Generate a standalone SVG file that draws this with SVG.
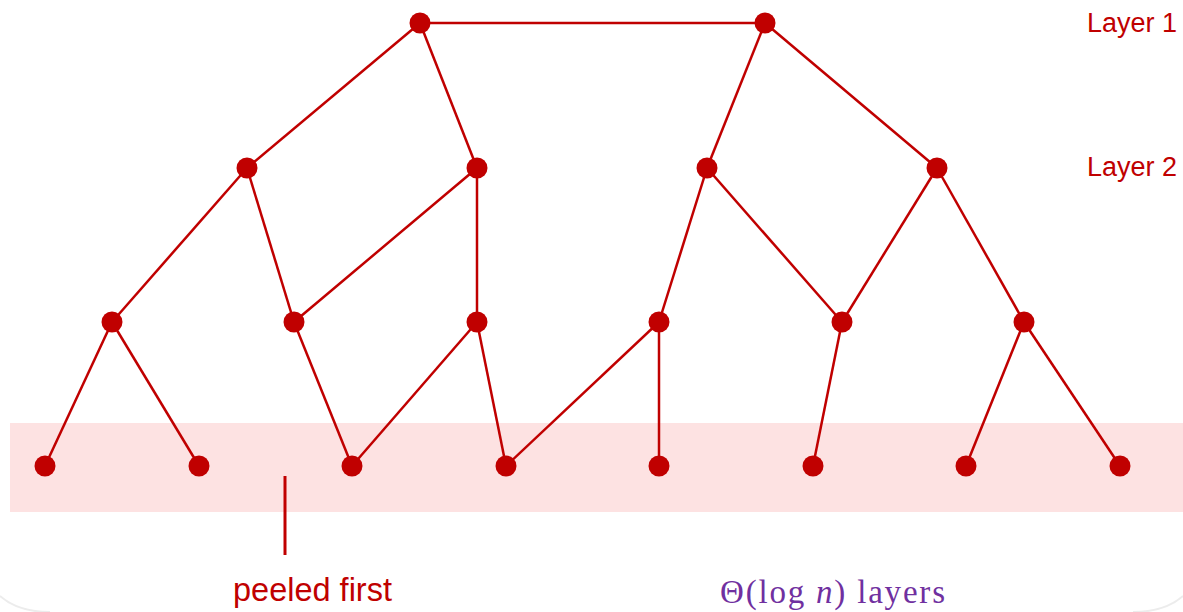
<svg xmlns="http://www.w3.org/2000/svg" width="1183" height="612" viewBox="0 0 1183 612">
<style>
.e{stroke:#c00000;stroke-width:2.5;fill:none}
.n{fill:#c00000}
.lbl{font-family:"Liberation Sans",Arial,sans-serif;fill:#c00000}
.math{font-family:"Liberation Serif","DejaVu Serif",serif;fill:#7030a0}
</style>
<rect width="1183" height="612" fill="#ffffff"/>
<path d="M0,596 Q18,612 50,612 M1133,612 Q1165,612 1183,596" stroke="#ececec" stroke-width="2" fill="none"/>
<rect id="band" x="10" y="423" width="1173" height="89" fill="#fde2e2"/>
<g id="connectors">
<line class="e" x1="420" y1="23" x2="765" y2="23"/>
<line class="e" x1="420" y1="23" x2="247" y2="168"/>
<line class="e" x1="420" y1="23" x2="477" y2="168"/>
<line class="e" x1="765" y1="23" x2="707" y2="168"/>
<line class="e" x1="765" y1="23" x2="937" y2="168"/>
<line class="e" x1="247" y1="168" x2="112" y2="322"/>
<line class="e" x1="247" y1="168" x2="294" y2="322"/>
<line class="e" x1="477" y1="168" x2="294" y2="322"/>
<line class="e" x1="477" y1="168" x2="477" y2="322"/>
<line class="e" x1="707" y1="168" x2="659" y2="322"/>
<line class="e" x1="707" y1="168" x2="842" y2="322"/>
<line class="e" x1="937" y1="168" x2="842" y2="322"/>
<line class="e" x1="937" y1="168" x2="1024" y2="322"/>
<line class="e" x1="112" y1="322" x2="45" y2="466"/>
<line class="e" x1="112" y1="322" x2="199" y2="466"/>
<line class="e" x1="294" y1="322" x2="352" y2="466"/>
<line class="e" x1="477" y1="322" x2="352" y2="466"/>
<line class="e" x1="477" y1="322" x2="506" y2="466"/>
<line class="e" x1="659" y1="322" x2="506" y2="466"/>
<line class="e" x1="659" y1="322" x2="659" y2="466"/>
<line class="e" x1="842" y1="322" x2="813" y2="466"/>
<line class="e" x1="1024" y1="322" x2="966" y2="466"/>
<line class="e" x1="1024" y1="322" x2="1120" y2="466"/>
<line x1="285" y1="476" x2="285" y2="555" stroke="#c00000" stroke-width="3"/>
</g>
<g id="n1a"><circle class="n" cx="420" cy="23" r="10.5"/></g>
<g id="n1b"><circle class="n" cx="765" cy="23" r="10.5"/></g>
<g id="n2a"><circle class="n" cx="247" cy="168" r="10.5"/></g>
<g id="n2b"><circle class="n" cx="477" cy="168" r="10.5"/></g>
<g id="n2c"><circle class="n" cx="707" cy="168" r="10.5"/></g>
<g id="n2d"><circle class="n" cx="937" cy="168" r="10.5"/></g>
<g id="n3a"><circle class="n" cx="112" cy="322" r="10.5"/></g>
<g id="n3b"><circle class="n" cx="294" cy="322" r="10.5"/></g>
<g id="n3c"><circle class="n" cx="477" cy="322" r="10.5"/></g>
<g id="n3d"><circle class="n" cx="659" cy="322" r="10.5"/></g>
<g id="n3e"><circle class="n" cx="842" cy="322" r="10.5"/></g>
<g id="n3f"><circle class="n" cx="1024" cy="322" r="10.5"/></g>
<g id="n4a"><circle class="n" cx="45" cy="466" r="10.5"/></g>
<g id="n4b"><circle class="n" cx="199" cy="466" r="10.5"/></g>
<g id="n4c"><circle class="n" cx="352" cy="466" r="10.5"/></g>
<g id="n4d"><circle class="n" cx="506" cy="466" r="10.5"/></g>
<g id="n4e"><circle class="n" cx="659" cy="466" r="10.5"/></g>
<g id="n4f"><circle class="n" cx="813" cy="466" r="10.5"/></g>
<g id="n4g"><circle class="n" cx="966" cy="466" r="10.5"/></g>
<g id="n4h"><circle class="n" cx="1120" cy="466" r="10.5"/></g>
<g id="labels">
<text class="lbl" x="1087" y="32" font-size="27">Layer 1</text>
<text class="lbl" x="1087" y="176" font-size="27">Layer 2</text>
<text class="lbl" x="233" y="601" font-size="32.5">peeled first</text>
<text class="math" x="720" y="603" font-size="33" textLength="225" lengthAdjust="spacing">Θ(log <tspan font-style="italic">n</tspan>) layers</text>
</g>
</svg>
